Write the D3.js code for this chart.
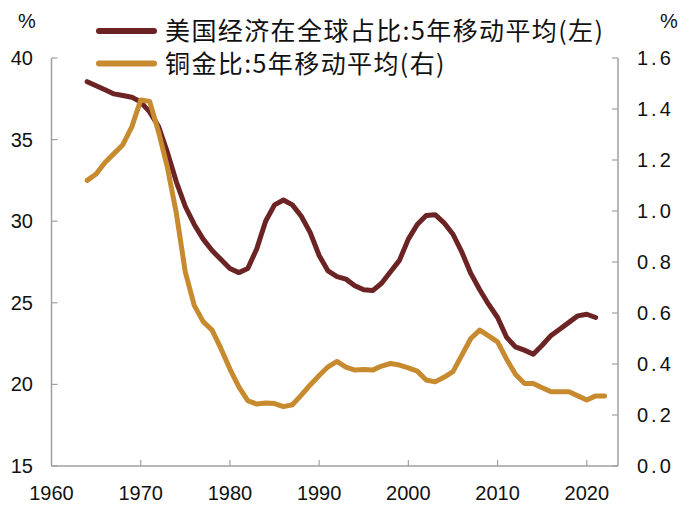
<!DOCTYPE html>
<html><head><meta charset="utf-8">
<script src="https://cdn.jsdelivr.net/npm/d3@7"></script>
<style>body{margin:0;background:#fff}svg{display:block}</style>
</head><body>
<svg id="c" width="700" height="516"></svg>
<script>
const usYears = d3.range(1964, 2022);
const usShare = [38.55,38.3,38.05,37.8,37.7,37.6,37.3,36.7,35.8,34.2,32.4,30.9,29.8,28.9,28.2,27.65,27.1,26.85,27.1,28.3,30.0,31.0,31.3,31.0,30.3,29.3,27.9,26.95,26.6,26.45,26.05,25.8,25.75,26.2,26.9,27.6,28.9,29.8,30.35,30.4,29.9,29.2,28.1,26.8,25.8,24.9,24.1,22.9,22.3,22.1,21.85,22.4,23.0,23.4,23.8,24.2,24.3,24.1];
const cgYears = d3.range(1964, 2023);
const copperGold = [1.12,1.145,1.19,1.225,1.26,1.33,1.435,1.43,1.31,1.17,0.99,0.76,0.63,0.566,0.533,0.46,0.38,0.31,0.256,0.243,0.247,0.245,0.233,0.24,0.278,0.318,0.355,0.389,0.41,0.388,0.376,0.378,0.376,0.392,0.402,0.396,0.385,0.372,0.337,0.33,0.348,0.37,0.435,0.5,0.533,0.51,0.487,0.42,0.36,0.324,0.324,0.307,0.291,0.291,0.291,0.275,0.259,0.275,0.275];
const xTicks = [1960,1970,1980,1990,2000,2010,2020];
const leftTicks = [15,20,25,30,35,40];
const rightTicks = [0,0.2,0.4,0.6,0.8,1.0,1.2,1.4,1.6];
const legendLabels = ["美国经济在全球占比:5年移动平均(左)","铜金比:5年移动平均(右)"];
const colors = ["#6b2324","#c78a2f"];

const svg = d3.select("#c");
const L = 51.5, R = 618, T = 58, B = 466;
const x = d3.scaleLinear().domain([1960, 2023.5]).range([L, R]);
const yL = d3.scaleLinear().domain([15, 40]).range([B, T]);
const yR = d3.scaleLinear().domain([0, 1.6]).range([B, T]);
const axisColor = "#a0a0a0";
const numFont = "'Liberation Sans', Arial, sans-serif";

const g = svg.append("g");
g.append("line").attr("x1",L).attr("x2",L).attr("y1",T).attr("y2",B).attr("stroke",axisColor).attr("stroke-width",1.5);
g.append("line").attr("x1",R).attr("x2",R).attr("y1",T).attr("y2",B).attr("stroke",axisColor).attr("stroke-width",1.5);
g.append("line").attr("x1",L).attr("x2",R).attr("y1",B).attr("y2",B).attr("stroke",axisColor).attr("stroke-width",1.5);

leftTicks.forEach(v=>{
  const y = yL(v);
  g.append("line").attr("x1",L).attr("x2",L+6).attr("y1",y).attr("y2",y).attr("stroke",axisColor).attr("stroke-width",1.2);
  g.append("text").attr("x",33).attr("y",y).attr("dy","0.35em").attr("text-anchor","end")
   .attr("font-family",numFont).attr("font-size",20).attr("fill","#111").text(v);
});
rightTicks.forEach(v=>{
  const y = yR(v);
  g.append("line").attr("x1",R-6).attr("x2",R).attr("y1",y).attr("y2",y).attr("stroke",axisColor).attr("stroke-width",1.2);
  g.append("text").attr("x",637).attr("y",y).attr("dy","0.35em").attr("text-anchor","start")
   .attr("font-family",numFont).attr("font-size",20).attr("letter-spacing","3px").attr("fill","#111").text(d3.format(".1f")(v));
});
xTicks.forEach(v=>{
  const xx = x(v);
  if (v>1960) g.append("line").attr("x1",xx).attr("x2",xx).attr("y1",B).attr("y2",B-6).attr("stroke",axisColor).attr("stroke-width",1.2);
  g.append("text").attr("x",xx).attr("y",493).attr("dy","0.35em").attr("text-anchor","middle")
   .attr("font-family",numFont).attr("font-size",20).attr("fill","#111").text(v);
});
svg.append("text").attr("x",27).attr("y",21).attr("dy","0.35em").attr("text-anchor","middle").attr("font-family",numFont).attr("font-size",20).attr("fill","#111").text("%");
svg.append("text").attr("x",669).attr("y",21).attr("dy","0.35em").attr("text-anchor","middle").attr("font-family",numFont).attr("font-size",20).attr("fill","#111").text("%");

const lineL = d3.line().x((d,i)=>x(usYears[i])).y(d=>yL(d));
const lineR = d3.line().x((d,i)=>x(cgYears[i])).y(d=>yR(d));
svg.append("path").datum(usShare).attr("d",lineL).attr("fill","none").attr("stroke",colors[0]).attr("stroke-width",5).attr("stroke-linejoin","round").attr("stroke-linecap","round");
svg.append("path").datum(copperGold).attr("d",lineR).attr("fill","none").attr("stroke",colors[1]).attr("stroke-width",5).attr("stroke-linejoin","round").attr("stroke-linecap","round");

legendLabels.forEach((lab,i)=>{
  const y = 31 + i*32.5;
  svg.append("line").attr("x1",99).attr("x2",154).attr("y1",y).attr("y2",y).attr("stroke",colors[i]).attr("stroke-width",6).attr("stroke-linecap","round");
  svg.append("text").attr("x",165).attr("y",y).attr("dy","0.36em").attr("font-family","'Noto Sans CJK SC', sans-serif")
   .attr("font-size",25).attr("letter-spacing","1.4px").attr("fill","#111").text(lab);
});
</script>
</body></html>
